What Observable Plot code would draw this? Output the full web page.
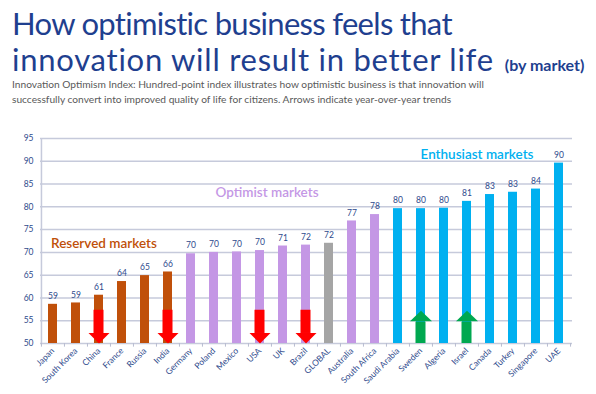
<!DOCTYPE html>
<html>
<head>
<meta charset="utf-8">
<script src="https://cdn.jsdelivr.net/npm/d3@7"></script>
<script src="https://cdn.jsdelivr.net/npm/@observablehq/plot@0.6"></script>
<style>
  html, body { margin: 0; padding: 0; background: #fff; }
  #wrap { width: 596px; height: 394px; position: relative; overflow: hidden; font-family: Lato, "Open Sans", sans-serif; }
  #title { position: absolute; left: 12px; top: 5px; width: 590px; color: #1F3F8F; font-family: Lato, sans-serif; font-size: 31px; line-height: 36px; white-space: nowrap; }
  #title .l1 { letter-spacing: -0.7px; }
  #title .l2 { letter-spacing: 0.75px; }
  #title .small { font-size: 16px; font-weight: 700; margin-left: 3px; letter-spacing: 0; }
  #subtitle { position: absolute; left: 12px; top: 77px; width: 590px; color: #595959; font-size: 10.2px; line-height: 15px; white-space: nowrap; }
  #chart { position: absolute; left: 0; top: 110px; }
</style>
</head>
<body>
<div id="wrap">
  <div id="title"><span class="l1">How optimistic business feels that</span><br><span class="l2">innovation will result in better life</span> <span class="small">(by market)</span></div>
  <div id="subtitle">Innovation Optimism Index: Hundred-point index illustrates how optimistic business is that innovation will<br>successfully convert into improved quality of life for citizens. Arrows indicate year-over-year trends</div>
  <div id="chart"></div>
</div>
<script>
const countries = ["Japan","South Korea","China","France","Russia","India","Germany","Poland","Mexico","USA","UK","Brazil","GLOBAL","Australia","South Africa","Saudi Arabia","Sweden","Algeria","Israel","Canada","Turkey","Singapore","UAE"];
const values = [58.6,58.9,60.6,63.6,64.9,65.7,69.7,70.0,70.1,70.4,71.4,71.6,72.0,76.9,78.3,79.6,79.6,79.7,81.2,82.7,83.2,83.9,89.6];
const labels = ["59","59","61","64","65","66","70","70","70","70","71","72","72","77","78","80","80","80","81","83","83","84","90"];
const groups = ["Reserved","Reserved","Reserved","Reserved","Reserved","Reserved","Optimist","Optimist","Optimist","Optimist","Optimist","Optimist","Global","Optimist","Optimist","Enthusiast","Enthusiast","Enthusiast","Enthusiast","Enthusiast","Enthusiast","Enthusiast","Enthusiast"];
const groupNames = ["Reserved","Optimist","Global","Enthusiast"];
const groupColors = ["#C0500A","#C497E5","#A5A5A5","#00B0F0"];
const arrowCountries = ["China","India","USA","Brazil","Sweden","Israel"];
const arrowTrends = ["down","down","down","down","up","up"];
const yTicks = [50,55,60,65,70,75,80,85,90,95];
const groupLabels = ["Reserved markets","Optimist markets","Enthusiast markets"];

const data = countries.map((c, i) => ({country: c, value: values[i], label: labels[i], group: groups[i]}));
const arrows = arrowCountries.map((c, i) => ({country: c, trend: arrowTrends[i]}));
const colorOf = g => groupColors[groupNames.indexOf(g)];

const headDown = { draw(ctx) { ctx.moveTo(-10.5, -10.5); ctx.lineTo(10.5, -10.5); ctx.lineTo(0, 0); ctx.closePath(); } };
const headUp = { draw(ctx) { ctx.moveTo(-11, 10.5); ctx.lineTo(11, 10.5); ctx.lineTo(0, 0); ctx.closePath(); } };

const navy = "#2E4A8C";
const pInner = 0.6, pOuter = 0.32;
const step = 532 / (countries.length - pInner + 2 * pOuter);

const chart = Plot.plot({
  width: 596,
  height: 284,
  marginTop: 28,
  marginBottom: 51,
  marginLeft: 40,
  marginRight: 24,
  style: { fontFamily: "Lato, 'Open Sans', sans-serif", background: "#fff" },
  x: { domain: countries, paddingInner: pInner, paddingOuter: pOuter, label: null },
  y: { domain: [50, 95], label: null },
  marks: [
    Plot.ruleY(yTicks, { stroke: "#C6CADB", strokeWidth: 1.5 }),
    Plot.ruleX([countries[0]], { x: d => d, dx: -step / 2, y1: 50, y2: 95, stroke: "#C6CADB", strokeWidth: 1.5 }),
    Plot.ruleX(countries, { x: d => d, dx: -step / 2, y1: 50, y2: 49.2, stroke: "#B8BDD0", strokeWidth: 1 }),
    Plot.ruleX([countries[countries.length - 1]], { x: d => d, dx: step / 2, y1: 50, y2: 49.2, stroke: "#B8BDD0", strokeWidth: 1 }),
    Plot.barY(data, { x: "country", y1: 50, y2: "value", fill: d => colorOf(d.group) }),
    Plot.text(data, { x: "country", y: "value", text: "label", dy: -8, fontSize: 8.5, fill: navy }),
    Plot.barY(arrows.filter(d => d.trend === "down"), { x: "country", y1: 52.2, y2: 57.3, fill: "#FF0000", insetLeft: -0.5, insetRight: -0.5 }),
    Plot.dot(arrows.filter(d => d.trend === "down"), { x: "country", y: 50, symbol: headDown, fill: "#FF0000", stroke: null, r: 5 }),
    Plot.barY(arrows.filter(d => d.trend === "up"), { x: "country", y1: 50, y2: 54.7, fill: "#00A850", insetLeft: -0.5, insetRight: -0.5 }),
    Plot.dot(arrows.filter(d => d.trend === "up"), { x: "country", y: 57.2, symbol: headUp, fill: "#00A850", stroke: null, r: 5 }),
    Plot.text([groupLabels[0]], { x: () => "Japan", y: 72, text: d => d, textAnchor: "start", dx: -2, fontSize: 13.5, fill: "#C0500A", fontWeight: 600 }),
    Plot.text([groupLabels[1]], { x: () => "USA", y: 83, text: d => d, textAnchor: "middle", dx: 7, fontSize: 13.5, fill: "#C497E5", fontWeight: 600 }),
    Plot.text([groupLabels[2]], { x: () => "Israel", y: 91.4, text: d => d, textAnchor: "middle", dx: 10, fontSize: 13.5, fill: "#00B0F0", fontWeight: 600 }),
    Plot.axisY({ ticks: yTicks, tickSize: 0, tickPadding: 7, fontSize: 8.5, fill: navy }),
    Plot.axisX({ tickSize: 0, tickPadding: 6, tickRotate: -45, fontSize: 8.5, fill: navy })
  ]
});
document.getElementById("chart").appendChild(chart);
</script>
</body>
</html>
